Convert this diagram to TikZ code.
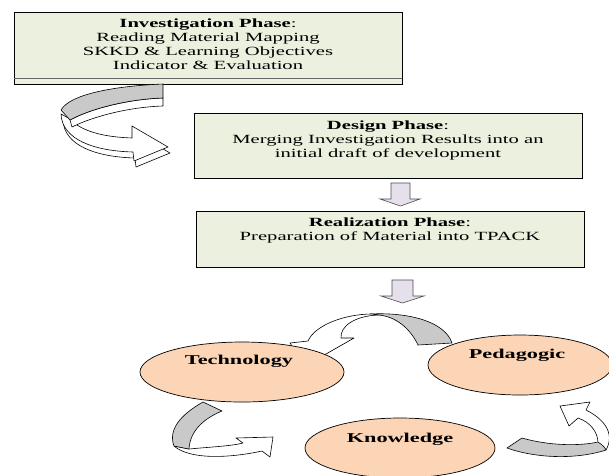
\documentclass[tikz,border=0pt]{standalone}
\usepackage{fontspec}
\setmainfont{Liberation Serif}[FakeStretch=1.65]
\usetikzlibrary{shapes.geometric}
\definecolor{boxfill}{HTML}{EBF1DE}
\definecolor{arrfill}{HTML}{E5E0EC}
\definecolor{ellfill}{HTML}{FBD5B5}
\definecolor{ribgray}{HTML}{C9C9C9}
\tikzset{
  phasebox/.style={draw=black, line width=0.8pt, fill=boxfill, rectangle, inner sep=0pt},
  phasetext/.style={anchor=north, inner sep=0pt, align=center, font=\fontsize{12.5}{14}\selectfont},
  downarr/.style={draw=black!70, line width=0.6pt, fill=arrfill},
  tpack/.style={draw=black, line width=0.7pt, fill=ellfill, ellipse, minimum height=60pt, inner sep=0pt},
  tlabel/.style={inner sep=0pt, font=\fontsize{13.5}{15}\selectfont\bfseries},
  ribw/.style={draw=black, line width=0.6pt, fill=white, line join=round},
  ribg/.style={draw=black, line width=0.6pt, fill=ribgray, line join=round}
}
\begin{document}
\begin{tikzpicture}[x=1pt,y=-1pt]
\useasboundingbox (0,0) rectangle (609,475);
\clip (0,0) rectangle (609,475);

% phase boxes
\node[phasebox, minimum width=388pt, minimum height=72pt] (inv) at (208,48) {};
\draw[black!60, line width=0.6pt] (inv.west |- 0,78) -- (inv.east |- 0,78);
\node[phasetext] (invt) at ([yshift=-7pt]inv.north) {\textbf{Investigation Phase}:\\Reading Material Mapping\\SKKD \& Learning Objectives\\Indicator \& Evaluation};

\node[phasebox, minimum width=388pt, minimum height=65pt] (des) at (388,145.5) {};
\node[phasetext] (dest) at ([yshift=-8pt]des.north) {\textbf{Design Phase}:\\Merging Investigation Results into an\\initial draft of development};

\node[phasebox, minimum width=388pt, minimum height=56pt] (rea) at (390,239) {};
\node[phasetext] (reat) at ([yshift=-7pt]rea.north) {\textbf{Realization Phase}:\\Preparation of Material into TPACK};

% straight down arrows
\draw[downarr] (391,183) -- (410,183) -- (410,199) -- (420,199) -- (400.5,206) -- (380,199) -- (391,199) -- cycle;
\draw[downarr] (392,280) -- (413,280) -- (413,296) -- (424,296) -- (402.5,303) -- (381,296) -- (392,296) -- cycle;

% curved ribbon arrow from investigation to design
\begin{scope}[shift={(2,6)}]
\draw[ribw] (70,119) .. controls (82,132) and (105,137) .. (132,138) -- (132,126) -- (168,147) -- (134,161) -- (133,152) .. controls (95,151) and (62,140) .. (61,114) -- cycle;
\end{scope}
\draw[ribw] (70,119) .. controls (82,132) and (105,137) .. (132,138) -- (132,126) -- (168,147) -- (134,161) -- (133,152) .. controls (95,151) and (62,140) .. (61,114) -- cycle;
\draw[ribw] (163,98) -- (163,106) .. controls (130,107) and (94,116) .. (72,127) -- (70,120) .. controls (92,108) and (130,99) .. (163,98) -- cycle;
\draw[ribg] (163,84) .. controls (115,86) and (70,94) .. (61,110) -- (70,120) .. controls (92,108) and (130,99) .. (163,98) -- cycle;

% top cycle arrow (Pedagogic -> Technology)
\draw[ribg] (370,314) .. controls (410,312) and (445,322) .. (452,343) -- (418,345) .. controls (410,328) and (395,316) .. (378,315) -- cycle;
\draw[ribw] (372,314) .. controls (345,314) and (315,325) .. (308,341) -- (290,343) -- (305,366) -- (354,338) -- (341,338) .. controls (340,326) and (355,316) .. (378,315) -- cycle;

% bottom-left cycle arrow (Technology -> Knowledge)
\draw[ribw] (189,449) .. controls (210,447) and (232,446) .. (243,443) -- (236,438) -- (273,437) -- (270,457) -- (262,451) .. controls (230,458) and (190,460) .. (174,446) -- cycle;
\draw[ribg] (203,402) .. controls (180,415) and (168,430) .. (174,446) -- (189,449) .. controls (190,430) and (205,418) .. (222,411) -- cycle;

% bottom-right cycle arrow (Knowledge -> Pedagogic)
\draw[ribw] (560,406) -- (590,402) -- (586,410) .. controls (602,418) and (616,432) .. (606,450) -- (598,443) .. controls (598,432) and (590,422) .. (578,418) -- (569,426) -- cycle;
\draw[ribg] (507,448) -- (522,438) .. controls (550,446) and (580,446) .. (598,442) .. controls (603,445) and (606,449) .. (606,450) .. controls (575,460) and (535,458) .. (507,448) -- cycle;

% TPACK ellipses
\node[tpack, minimum width=204pt] (tech) at (242,372) {};
\node[tlabel] (techt) at (239,361) {Technology};
\node[tpack, minimum width=184pt] (ped) at (520,365) {};
\node[tlabel] (pedt) at (517,355) {Pedagogic};
\node[tpack, minimum width=190pt] (know) at (400,448) {};
\node[tlabel] (knowt) at (400,439) {Knowledge};
\end{tikzpicture}
\end{document}
